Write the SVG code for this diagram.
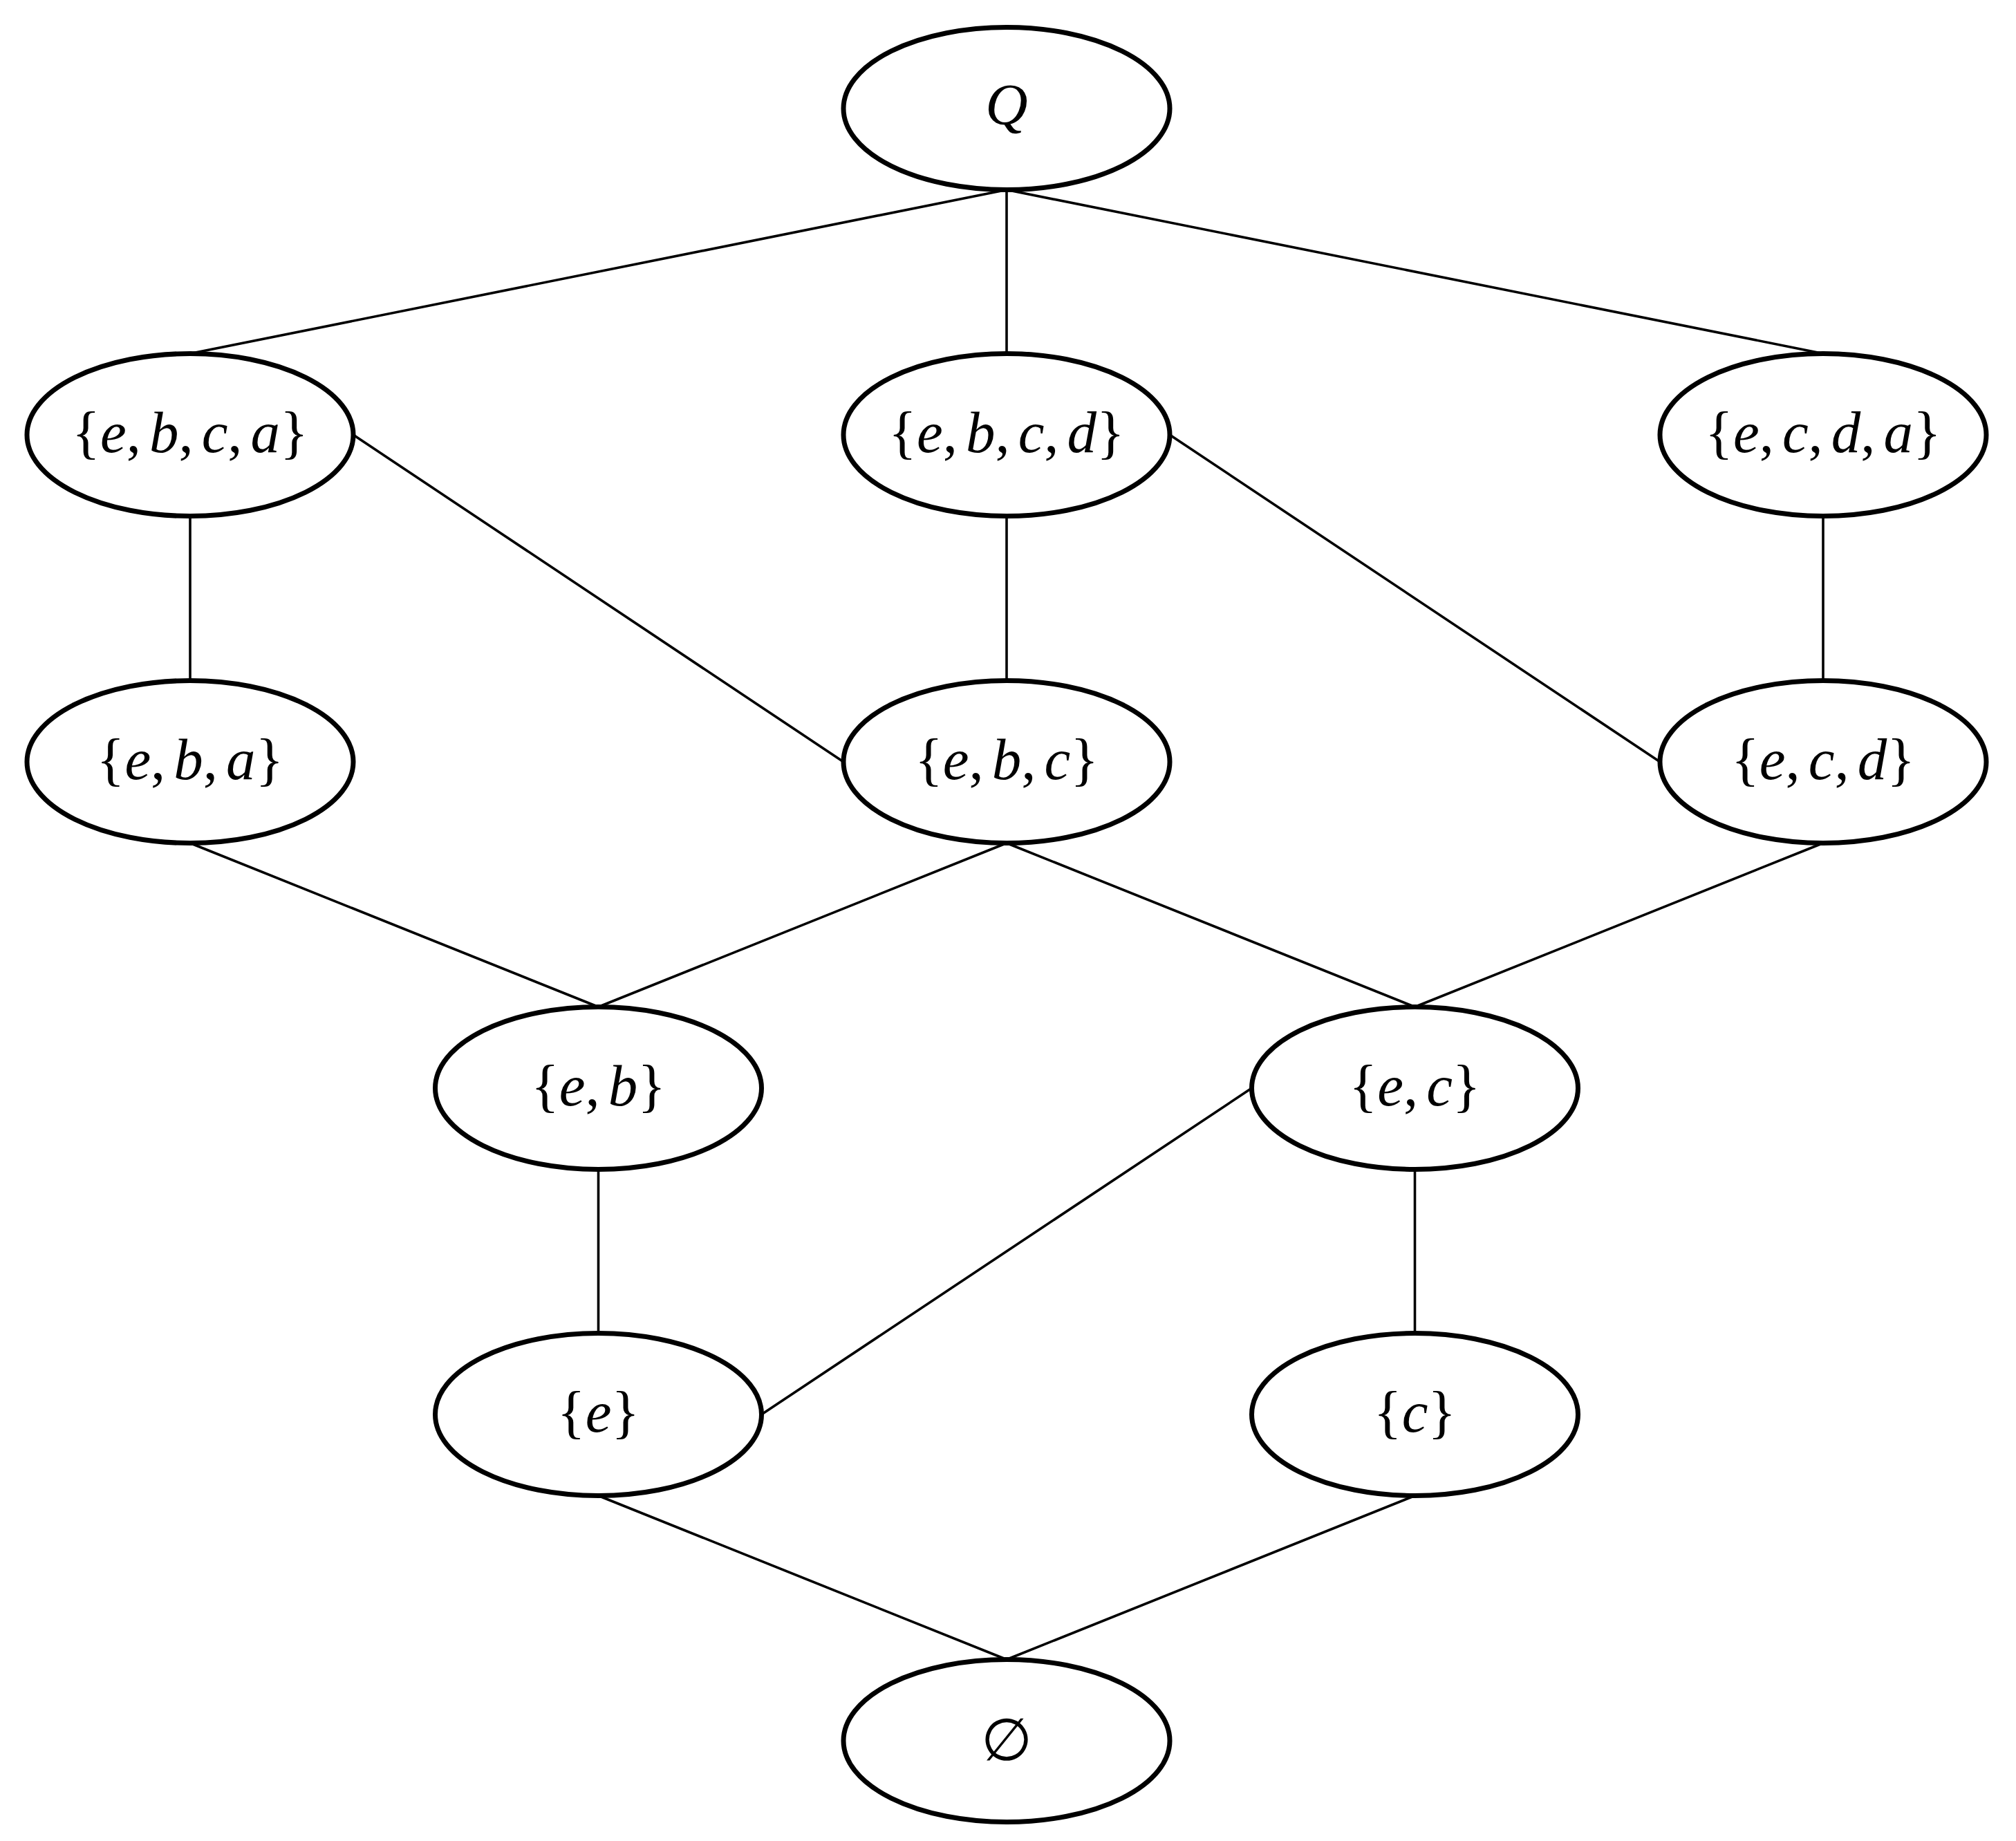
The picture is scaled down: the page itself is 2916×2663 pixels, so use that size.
<svg xmlns="http://www.w3.org/2000/svg" width="2916" height="2663" viewBox="0 0 2916 2663">
<style>
.node ellipse{fill:#fff;stroke:#000;stroke-width:7}
.edge{stroke:#000;stroke-width:3.6;fill:none}
.lbl{font-family:"Liberation Serif","DejaVu Serif",serif;font-size:85px;text-anchor:middle;fill:#000}
.i{font-style:italic}
</style>
<rect width="2916" height="2663" fill="#fff"/>
<g id="connectors">
<path class="edge" d="M1456,274.5 L275,511.5"/>
<path class="edge" d="M1456,274.5 L1456,511.5"/>
<path class="edge" d="M1456,274.5 L2637,511.5"/>
<path class="edge" d="M275,746.5 L275,984.5"/>
<path class="edge" d="M511,629 L1220,1102"/>
<path class="edge" d="M1456,746.5 L1456,984.5"/>
<path class="edge" d="M1692,629 L2401,1102"/>
<path class="edge" d="M2637,746.5 L2637,984.5"/>
<path class="edge" d="M275,1219.5 L865.5,1456.5"/>
<path class="edge" d="M1456,1219.5 L865.5,1456.5"/>
<path class="edge" d="M1456,1219.5 L2046.5,1456.5"/>
<path class="edge" d="M2637,1219.5 L2046.5,1456.5"/>
<path class="edge" d="M865.5,1691.5 L865.5,1928.5"/>
<path class="edge" d="M1810.5,1574 L1101.5,2046"/>
<path class="edge" d="M2046.5,1691.5 L2046.5,1928.5"/>
<path class="edge" d="M865.5,2163.5 L1456,2400.5"/>
<path class="edge" d="M2046.5,2163.5 L1456,2400.5"/>
</g>
<g id="Q" class="node"><ellipse cx="1456" cy="157" rx="236" ry="117.5"/><text class="lbl i" x="1456" y="180">Q</text></g>
<g id="ebca" class="node"><ellipse cx="275" cy="629" rx="236" ry="117.5"/><text class="lbl" x="275" y="654">{<tspan class="i">e</tspan>,<tspan class="i" dx="12">b</tspan>,<tspan class="i" dx="12">c</tspan>,<tspan class="i" dx="12">a</tspan>}</text></g>
<g id="ebcd" class="node"><ellipse cx="1456" cy="629" rx="236" ry="117.5"/><text class="lbl" x="1456" y="654">{<tspan class="i">e</tspan>,<tspan class="i" dx="12">b</tspan>,<tspan class="i" dx="12">c</tspan>,<tspan class="i" dx="12">d</tspan>}</text></g>
<g id="ecda" class="node"><ellipse cx="2637" cy="629" rx="236" ry="117.5"/><text class="lbl" x="2637" y="654">{<tspan class="i">e</tspan>,<tspan class="i" dx="12">c</tspan>,<tspan class="i" dx="12">d</tspan>,<tspan class="i" dx="12">a</tspan>}</text></g>
<g id="eba" class="node"><ellipse cx="275" cy="1102" rx="236" ry="117.5"/><text class="lbl" x="275" y="1127">{<tspan class="i">e</tspan>,<tspan class="i" dx="12">b</tspan>,<tspan class="i" dx="12">a</tspan>}</text></g>
<g id="ebc" class="node"><ellipse cx="1456" cy="1102" rx="236" ry="117.5"/><text class="lbl" x="1456" y="1127">{<tspan class="i">e</tspan>,<tspan class="i" dx="12">b</tspan>,<tspan class="i" dx="12">c</tspan>}</text></g>
<g id="ecd" class="node"><ellipse cx="2637" cy="1102" rx="236" ry="117.5"/><text class="lbl" x="2637" y="1127">{<tspan class="i">e</tspan>,<tspan class="i" dx="12">c</tspan>,<tspan class="i" dx="12">d</tspan>}</text></g>
<g id="eb" class="node"><ellipse cx="865.5" cy="1574" rx="236" ry="117.5"/><text class="lbl" x="865.5" y="1599">{<tspan class="i">e</tspan>,<tspan class="i" dx="12">b</tspan>}</text></g>
<g id="ec" class="node"><ellipse cx="2046.5" cy="1574" rx="236" ry="117.5"/><text class="lbl" x="2046.5" y="1599">{<tspan class="i">e</tspan>,<tspan class="i" dx="12">c</tspan>}</text></g>
<g id="e" class="node"><ellipse cx="865.5" cy="2046" rx="236" ry="117.5"/><text class="lbl" x="865.5" y="2071">{<tspan class="i">e</tspan>}</text></g>
<g id="c" class="node"><ellipse cx="2046.5" cy="2046" rx="236" ry="117.5"/><text class="lbl" x="2046.5" y="2071">{<tspan class="i">c</tspan>}</text></g>
<g id="empty" class="node"><ellipse cx="1456" cy="2518" rx="236" ry="117.5"/><text class="lbl" x="1456" y="2546">∅</text></g>
</svg>
